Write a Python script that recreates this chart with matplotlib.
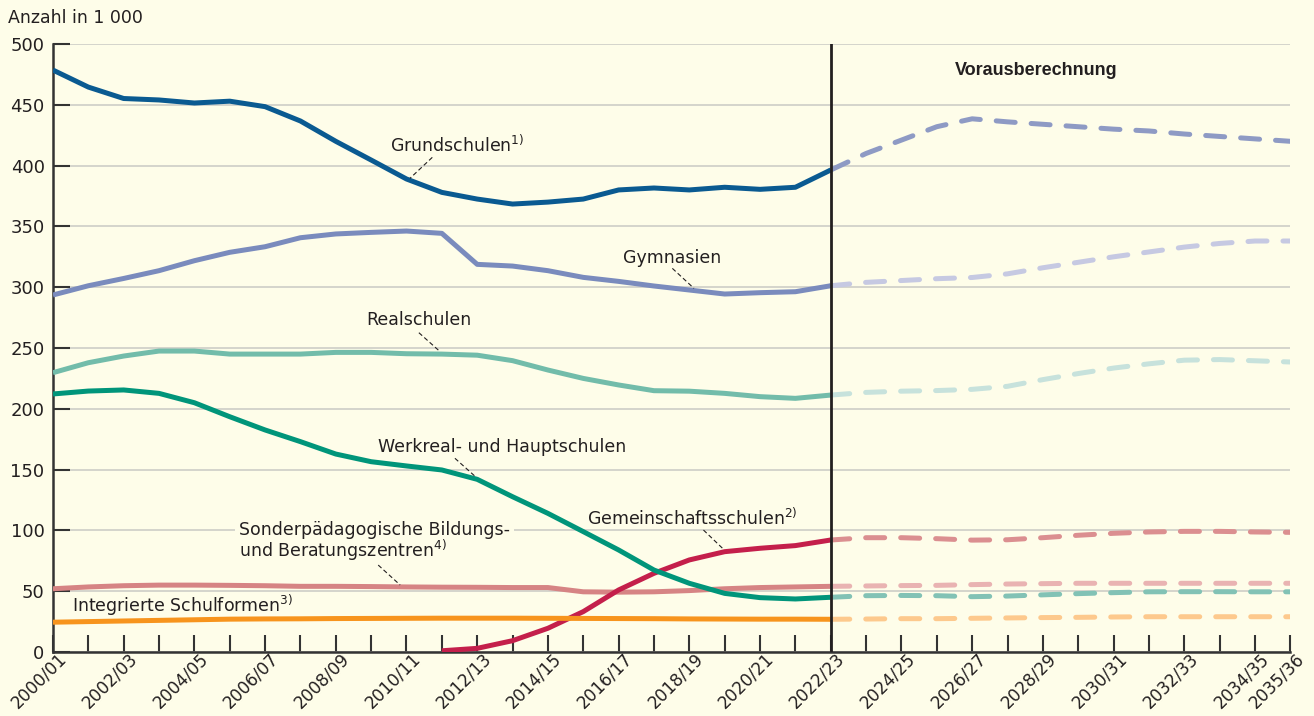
#!/usr/bin/env python3
"""
Schüler an allgemeinbildenden Schulen nach Schularten, 2000/01 bis 2035/36
Ist-Werte durchgezogen, Vorausberechnung gestrichelt
"""

import matplotlib
matplotlib.use("Agg")
import matplotlib.pyplot as plt
import matplotlib.transforms as mtransforms
import numpy as np

# Schuljahre (x-Achse)
school_years = [
    "2000/01", "2001/02", "2002/03", "2003/04", "2004/05", "2005/06",
    "2006/07", "2007/08", "2008/09", "2009/10", "2010/11", "2011/12",
    "2012/13", "2013/14", "2014/15", "2015/16", "2016/17", "2017/18",
    "2018/19", "2019/20", "2020/21", "2021/22", "2022/23", "2023/24",
    "2024/25", "2025/26", "2026/27", "2027/28", "2028/29", "2029/30",
    "2030/31", "2031/32", "2032/33", "2033/34", "2034/35", "2035/36",
]
labelled_years = [
    "2000/01", "2002/03", "2004/05", "2006/07", "2008/09", "2010/11",
    "2012/13", "2014/15", "2016/17", "2018/19", "2020/21", "2022/23",
    "2024/25", "2026/27", "2028/29", "2030/31", "2032/33", "2034/35",
    "2035/36",
]
last_actual = "2022/23"

# Ist-Werte 2000/01 .. 2022/23 (Anzahl in 1 000)
grund_ist = [478.6, 464.6, 455.2, 454.0, 451.5, 453.0, 448.5, 436.7, 420.0,
             404.6, 389.0, 378.0, 372.5, 368.4, 370.0, 372.5, 380.0, 381.6,
             380.0, 382.2, 380.5, 382.2, 396.4]
gym_ist = [293.6, 301.2, 307.2, 313.6, 321.8, 328.7, 333.3, 340.7, 343.8,
           345.1, 346.2, 344.3, 318.8, 317.4, 313.6, 308.1, 304.8, 301.0,
           297.7, 294.4, 295.5, 296.3, 301.2]
real_ist = [229.7, 237.9, 243.4, 247.5, 247.5, 245.0, 245.0, 245.0, 246.4,
            246.4, 245.3, 245.0, 244.1, 239.6, 231.9, 225.0, 219.6, 214.9,
            214.5, 212.7, 210.0, 208.6, 211.3]
werk_ist = [212.2, 214.6, 215.5, 212.7, 205.0, 193.5, 182.6, 173.0, 162.8,
            156.5, 153.0, 149.7, 142.0, 127.7, 114.0, 99.0, 83.9, 67.4,
            56.5, 48.2, 44.7, 43.6, 45.0]
gemein_ist = [None, None, None, None, None, None, None, None, None, None,
              None, 1.0, 3.0, 9.3, 19.5, 33.2, 51.0, 64.7, 75.7, 82.5, 85.3,
              87.5, 92.1]
sonder_ist = [52.0, 53.5, 54.5, 55.0, 55.0, 54.8, 54.5, 54.0, 54.0, 53.8,
              53.5, 53.3, 53.2, 53.0, 53.0, 49.5, 49.2, 49.5, 50.5, 52.0,
              53.0, 53.5, 54.0]
integ_ist = [24.5, 25.0, 25.5, 26.0, 26.5, 27.0, 27.2, 27.3, 27.5, 27.6,
             27.7, 27.8, 27.8, 27.8, 27.7, 27.6, 27.5, 27.4, 27.2, 27.1,
             27.0, 27.0, 26.9]

# Vorausberechnung 2022/23 .. 2035/36
grund_vb = [396.4, 410.0, 421.0, 432.0, 438.5, 436.0, 434.0, 432.0, 430.0,
            428.5, 426.0, 424.0, 422.0, 420.0]
gym_vb = [301.2, 304.0, 305.5, 307.0, 308.0, 311.0, 316.0, 320.5, 325.0,
          329.0, 333.0, 336.0, 338.0, 338.0]
real_vb = [211.3, 213.5, 214.5, 215.0, 216.0, 218.5, 224.0, 229.0, 233.5,
           237.0, 240.0, 240.5, 239.5, 238.5]
werk_vb = [45.0, 46.3, 46.5, 46.3, 45.5, 46.0, 47.0, 48.0, 48.8, 49.5,
           49.6, 49.6, 49.5, 49.5]
gemein_vb = [92.1, 94.0, 94.0, 93.2, 92.0, 92.3, 94.0, 96.0, 97.6, 98.7,
             99.2, 99.2, 98.7, 98.4]
sonder_vb = [54.0, 54.3, 54.6, 54.8, 55.4, 55.9, 56.2, 56.5, 56.5, 56.5,
             56.5, 56.5, 56.5, 56.5]
integ_vb = [26.9, 27.1, 27.4, 27.4, 27.7, 28.0, 28.3, 28.5, 28.8, 29.0,
            29.0, 29.0, 29.0, 29.0]

BG = "#fefde9"
TEXT = "#231f20"

plt.rcParams["font.family"] = ["DejaVu Sans"]
plt.rcParams["axes.unicode_minus"] = False

fig = plt.figure(figsize=(13.14, 7.16), dpi=100, facecolor=BG)
ax = fig.add_axes([0.0403, 0.0894, 0.9417, 0.8491], facecolor=BG)

x_all = np.arange(len(school_years))
i_last = school_years.index(last_actual)
x_ist = x_all[: i_last + 1]
x_vb = x_all[i_last:]

LW = 3.6
series = [
    # ist, vb, farbe ist, farbe vb, zorder
    (sonder_ist, sonder_vb, "#d68484", "#e9b3b2", 3),
    (gemein_ist, gemein_vb, "#c41f4b", "#db8f90", 4),
    (werk_ist, werk_vb, "#00957a", "#82c2b5", 5),
    (integ_ist, integ_vb, "#f7941d", "#fdc98d", 6),
    (real_ist, real_vb, "#72bcaa", "#c7e2dc", 3),
    (gym_ist, gym_vb, "#7a8bbd", "#c6c9e2", 3),
    (grund_ist, grund_vb, "#0a5a91", "#8e9ac4", 3),
]
for ist, vb, c_ist, c_vb, z in series:
    y_ist = np.array([np.nan if v is None else v for v in ist], dtype=float)
    ax.plot(x_ist, y_ist, color=c_ist, lw=LW, zorder=z,
            solid_joinstyle="round", solid_capstyle="butt")
    ax.plot(x_vb, vb, color=c_vb, lw=LW, zorder=z - 0.5,
            linestyle=(0, (3.8, 3.2)), dash_capstyle="round")

ax.set_xlim(0, len(school_years) - 1)
ax.set_ylim(0, 500)

# Gitter
ax.set_yticks(np.arange(0, 501, 50))
ax.yaxis.grid(True, color="#c9c9c4", lw=1.1, zorder=1)
ax.set_axisbelow(True)

ax.set_xticks(x_all)
ax.set_xticklabels([s if s in labelled_years else "" for s in school_years],
                   rotation=45, ha="right", va="center",
                   rotation_mode="anchor", fontsize=12.2, color=TEXT)
ax.tick_params(axis="x", direction="in", length=12, width=1.5,
               color="#333333", pad=3)
ax.tick_params(axis="y", direction="in", length=12, width=1.5,
               color="#333333", pad=6, labelsize=13, labelcolor=TEXT)
for lab in ax.get_xticklabels():
    lab.set_transform(lab.get_transform() +
                      mtransforms.ScaledTranslation(11 / 100, 0,
                                                    fig.dpi_scale_trans))

for side in ("top", "right"):
    ax.spines[side].set_visible(False)
for side in ("left", "bottom"):
    ax.spines[side].set_color("#333333")
    ax.spines[side].set_linewidth(1.8)

# Trennlinie Ist / Vorausberechnung
ax.axvline(i_last, color="#231f20", lw=2, zorder=8)

# Beschriftungen
fs = 12.5
ax.text(9.53, 416.9, "Grundschulen$^{1)}$", fontsize=fs, color=TEXT,
        va="center")
ax.text(16.12, 324.0, "Gymnasien", fontsize=fs, color=TEXT, va="center")
ax.text(8.87, 273.0, "Realschulen", fontsize=fs, color=TEXT, va="center")
ax.text(9.19, 168.8, "Werkreal- und Hauptschulen", fontsize=fs, color=TEXT,
        va="center")
ax.text(15.10, 110.0, "Gemeinschaftsschulen$^{2)}$", fontsize=fs,
        color=TEXT, va="center")
ax.text(5.27, 90.7, "Sonderpädagogische Bildungs-\nund Beratungszentren$^{4)}$",
        fontsize=fs, color=TEXT, va="center", linespacing=0.95,
        bbox=dict(facecolor=BG, edgecolor="none", pad=3), zorder=2)
ax.text(0.53, 38.7, "Integrierte Schulformen$^{3)}$", fontsize=fs,
        color=TEXT, va="center")
ax.text(25.52, 478.6, "Vorausberechnung", fontsize=13, color=TEXT,
        va="center", fontweight="bold", family=["Liberation Sans"])

# Hinweislinien
leaders = [
    ((10.73, 406.8), (10.10, 389.6)),
    ((17.52, 315.5), (18.13, 299.1)),
    ((10.35, 262.6), (10.95, 247.0)),
    ((11.37, 159.3), (11.97, 143.7)),
    ((18.40, 100.3), (18.96, 84.7)),
    ((9.20, 71.5), (9.82, 55.1)),
]
for (x0, y0), (x1, y1) in leaders:
    ax.plot([x0, x1], [y0, y1], color=TEXT, lw=0.8,
            linestyle=(0, (4, 2.5)), zorder=9)

fig.text(8 / 1314, 1 - 18 / 716, "Anzahl in 1 000", fontsize=12.5,
         color=TEXT, va="center", ha="left")

fig.savefig("out.png", dpi=100, facecolor=BG)
